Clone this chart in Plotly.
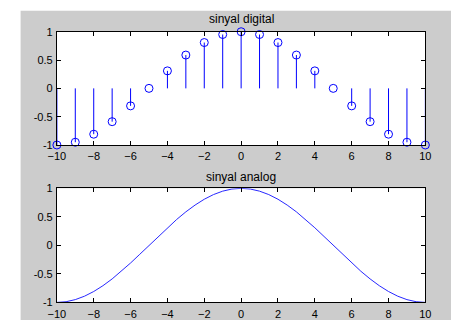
import plotly.graph_objects as go

# Discrete samples n = -10..10 shown as stems
n_samples = [-10, -9, -8, -7, -6, -5, -4, -3, -2, -1, 0, 1, 2, 3, 4, 5, 6, 7, 8, 9, 10]
digital_values = [-1.0, -0.951, -0.809, -0.588, -0.309, 0.0, 0.309, 0.588, 0.809, 0.951, 1.0,
                  0.951, 0.809, 0.588, 0.309, 0.0, -0.309, -0.588, -0.809, -0.951, -1.0]

# Continuous signal sampled finely
t_analog = [-10, -9.5, -9, -8.5, -8, -7.5, -7, -6.5, -6, -5.5, -5, -4.5, -4, -3.5, -3, -2.5, -2,
            -1.5, -1, -0.5, 0, 0.5, 1, 1.5, 2, 2.5, 3, 3.5, 4, 4.5, 5, 5.5, 6, 6.5, 7, 7.5, 8,
            8.5, 9, 9.5, 10]
analog_values = [-1.0, -0.988, -0.951, -0.891, -0.809, -0.707, -0.588, -0.454, -0.309, -0.156,
                 0.0, 0.156, 0.309, 0.454, 0.588, 0.707, 0.809, 0.891, 0.951, 0.988, 1.0,
                 0.988, 0.951, 0.891, 0.809, 0.707, 0.588, 0.454, 0.309, 0.156, 0.0, -0.156,
                 -0.309, -0.454, -0.588, -0.707, -0.809, -0.891, -0.951, -0.988, -1.0]

x_ticks = [-10, -8, -6, -4, -2, 0, 2, 4, 6, 8, 10]
y_ticks = [-1, -0.5, 0, 0.5, 1]
y_tick_text = ["-1", "-0.5", "0", "0.5", "1"]

W, H = 457, 327
FONT = "Liberation Sans, Arial, sans-serif"
BLUE = "#0000FF"

# stem segments from the baseline 0 to each sample value
stem_x, stem_y = [], []
for n, v in zip(n_samples, digital_values):
    stem_x += [n, n, None]
    stem_y += [0, v, None]

fig = go.Figure()
fig.add_trace(go.Scatter(x=stem_x, y=stem_y, mode="lines",
                         line=dict(color=BLUE, width=1),
                         xaxis="x", yaxis="y", hoverinfo="skip", showlegend=False))
fig.add_trace(go.Scatter(x=n_samples, y=digital_values, mode="markers",
                         marker=dict(symbol="circle-open", size=8, color=BLUE,
                                     line=dict(color=BLUE, width=1)),
                         cliponaxis=False, xaxis="x", yaxis="y", showlegend=False))
fig.add_trace(go.Scatter(x=t_analog, y=analog_values, mode="lines",
                         line=dict(color="#2828FF", width=1),
                         cliponaxis=False, xaxis="x2", yaxis="y2", showlegend=False))

x_dom = [49.5 / W, 430.5 / W]
top_dom = [1 - 144.3 / H, 1 - 26.7 / H]
bot_dom = [1 - 307.7 / H, 1 - 189.3 / H]

axis_common = dict(showgrid=False, zeroline=False, showline=True, linecolor="black",
                   linewidth=1, mirror="ticks", ticks="inside", ticklen=4,
                   tickcolor="black", tickfont=dict(family=FONT, size=11, color="black"))

fig.update_layout(
    width=W, height=H,
    margin=dict(l=0, r=0, t=0, b=0),
    paper_bgcolor="white", plot_bgcolor="white",
    xaxis=dict(domain=x_dom, range=[-10, 10], tickvals=x_ticks, anchor="y",
               ticklabelstandoff=1, **axis_common),
    yaxis=dict(domain=top_dom, range=[-1, 1], tickvals=y_ticks, ticktext=y_tick_text,
               anchor="x", ticklabelstandoff=1, **axis_common),
    xaxis2=dict(domain=x_dom, range=[-10, 10], tickvals=x_ticks, anchor="y2",
                ticklabelstandoff=1, **axis_common),
    yaxis2=dict(domain=bot_dom, range=[-1, 1], tickvals=y_ticks, ticktext=y_tick_text,
                anchor="x2", ticklabelstandoff=1, **axis_common),
    # grey figure panel, with white axes areas painted over it
    shapes=[
        dict(type="rect", xref="paper", yref="paper", x0=12 / W, x1=1,
             y0=1 / H, y1=1 - 5 / H, fillcolor="#CCCCCC", line=dict(width=0),
             layer="below"),
        dict(type="rect", xref="x domain", yref="y domain", x0=0, x1=1, y0=0, y1=1,
             fillcolor="white", line=dict(width=0), layer="below"),
        dict(type="rect", xref="x2 domain", yref="y2 domain", x0=0, x1=1, y0=0, y1=1,
             fillcolor="white", line=dict(width=0), layer="below"),
    ],
    annotations=[
        dict(text="sinyal digital", xref="paper", yref="paper",
             x=(x_dom[0] + x_dom[1]) / 2, y=1 - 13 / H, showarrow=False,
             xanchor="center", yanchor="middle",
             font=dict(family=FONT, size=12, color="black")),
        dict(text="sinyal analog", xref="paper", yref="paper",
             x=(x_dom[0] + x_dom[1]) / 2, y=1 - 177 / H, showarrow=False,
             xanchor="center", yanchor="middle",
             font=dict(family=FONT, size=12, color="black")),
    ],
)

fig.write_html("out.html")
